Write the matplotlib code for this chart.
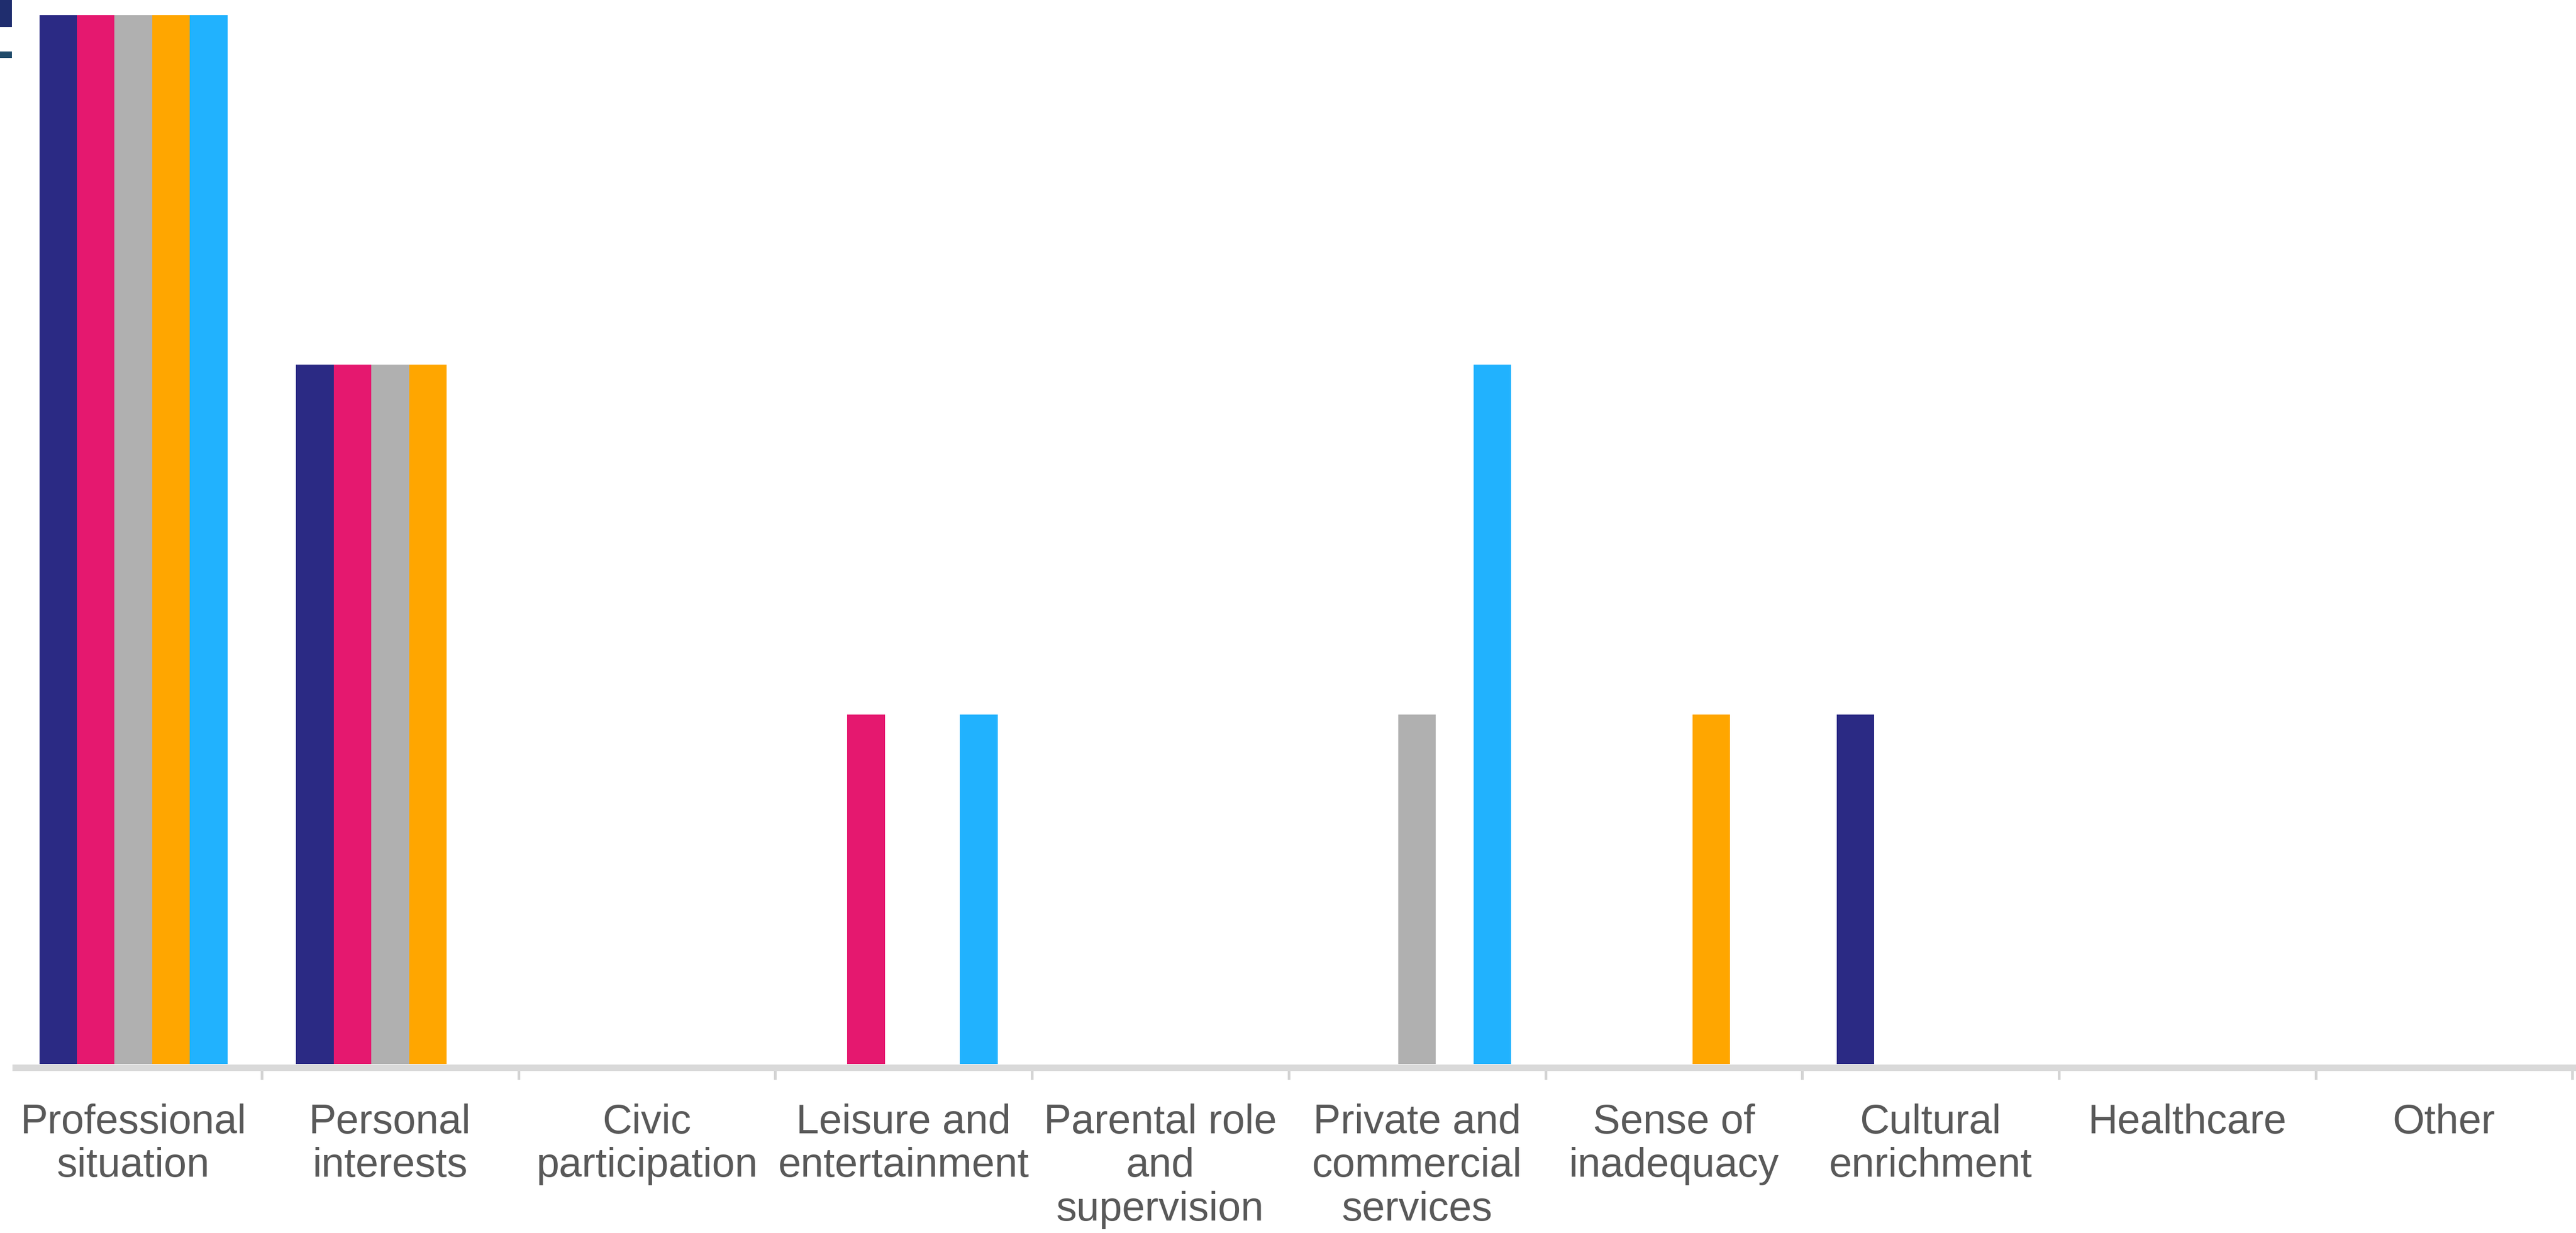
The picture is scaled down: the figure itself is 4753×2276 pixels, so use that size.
import matplotlib
matplotlib.use("Agg")
import matplotlib.pyplot as plt
import numpy as np
from matplotlib.patches import Rectangle

categories = [
    "Professional\nsituation", "Personal\ninterests", "Civic\nparticipation",
    "Leisure and\nentertainment", "Parental role\nand\nsupervision",
    "Private and\ncommercial\nservices", "Sense of\ninadequacy",
    "Cultural\nenrichment", "Healthcare", "Other",
]
series_names = ["Series 1", "Series 2", "Series 3", "Series 4", "Series 5"]
series_1 = [3, 2, 0, 0, 0, 0, 0, 1, 0, 0]
series_2 = [3, 2, 0, 1, 0, 0, 0, 0, 0, 0]
series_3 = [3, 2, 0, 0, 0, 1, 0, 0, 0, 0]
series_4 = [3, 2, 0, 0, 0, 0, 1, 0, 0, 0]
series_5 = [3, 0, 0, 1, 0, 2, 0, 0, 0, 0]
series_values = [series_1, series_2, series_3, series_4, series_5]
colors = ["#2B2A84", "#E5186F", "#B0B0B0", "#FFA600", "#21B2FE"]

W, H, DPI = 4753, 2276, 100
fig = plt.figure(figsize=(W / DPI, H / DPI), dpi=DPI)
fig.patch.set_facecolor("white")

x0_px, x1_px = 23.0, 4753.0
cat_px = 473.7
first_edge_px = 9.3
left = x0_px / W
right = x1_px / W
bottom = (H - 1964) / H
top = (H - 28) / H
ax = fig.add_axes([left, bottom, right - left, top - bottom])

x = np.arange(len(categories))
bw = 0.1465
for i, (name, vals, c) in enumerate(zip(series_names, series_values, colors)):
    ax.bar(x + (i - 2) * bw, vals, width=bw, color=c, linewidth=0, label=name, zorder=2)

ax.set_xlim(-0.5 + (x0_px - first_edge_px) / cat_px,
            -0.5 + (x1_px - first_edge_px) / cat_px)
ax.set_ylim(0, 3)

for s in ["top", "left", "right"]:
    ax.spines[s].set_visible(False)
px = 72 / DPI
ax.spines["bottom"].set_color("#D9D9D9")
ax.spines["bottom"].set_linewidth(12 * px)
ax.spines["bottom"].set_position(("outward", 7 * px))
ax.spines["bottom"].set_capstyle("butt")

ax.set_yticks([])
ax.set_xticks(x)
ax.set_xticklabels(categories, fontfamily="Liberation Sans", fontsize=54.5, color="#595959",
                   linespacing=1.17)
ax.tick_params(axis="x", which="major", length=0, pad=66 * px)
ax.set_xticks(np.arange(0.5, len(categories), 1.0), minor=True)
ax.tick_params(axis="x", which="minor", length=22 * px, width=5 * px, color="#D4D4D4",
               direction="out")

# cropping artefacts at the top-left edge of the source image
fig.add_artist(Rectangle((0, 1 - 50 / H), 22 / W, 50 / H, transform=fig.transFigure,
                         color="#1F2D6E", linewidth=0))
fig.add_artist(Rectangle((0, 1 - 107 / H), 22 / W, 12 / H, transform=fig.transFigure,
                         color="#1F4A6A", linewidth=0))

fig.savefig("out.png", dpi=DPI, facecolor="white")
